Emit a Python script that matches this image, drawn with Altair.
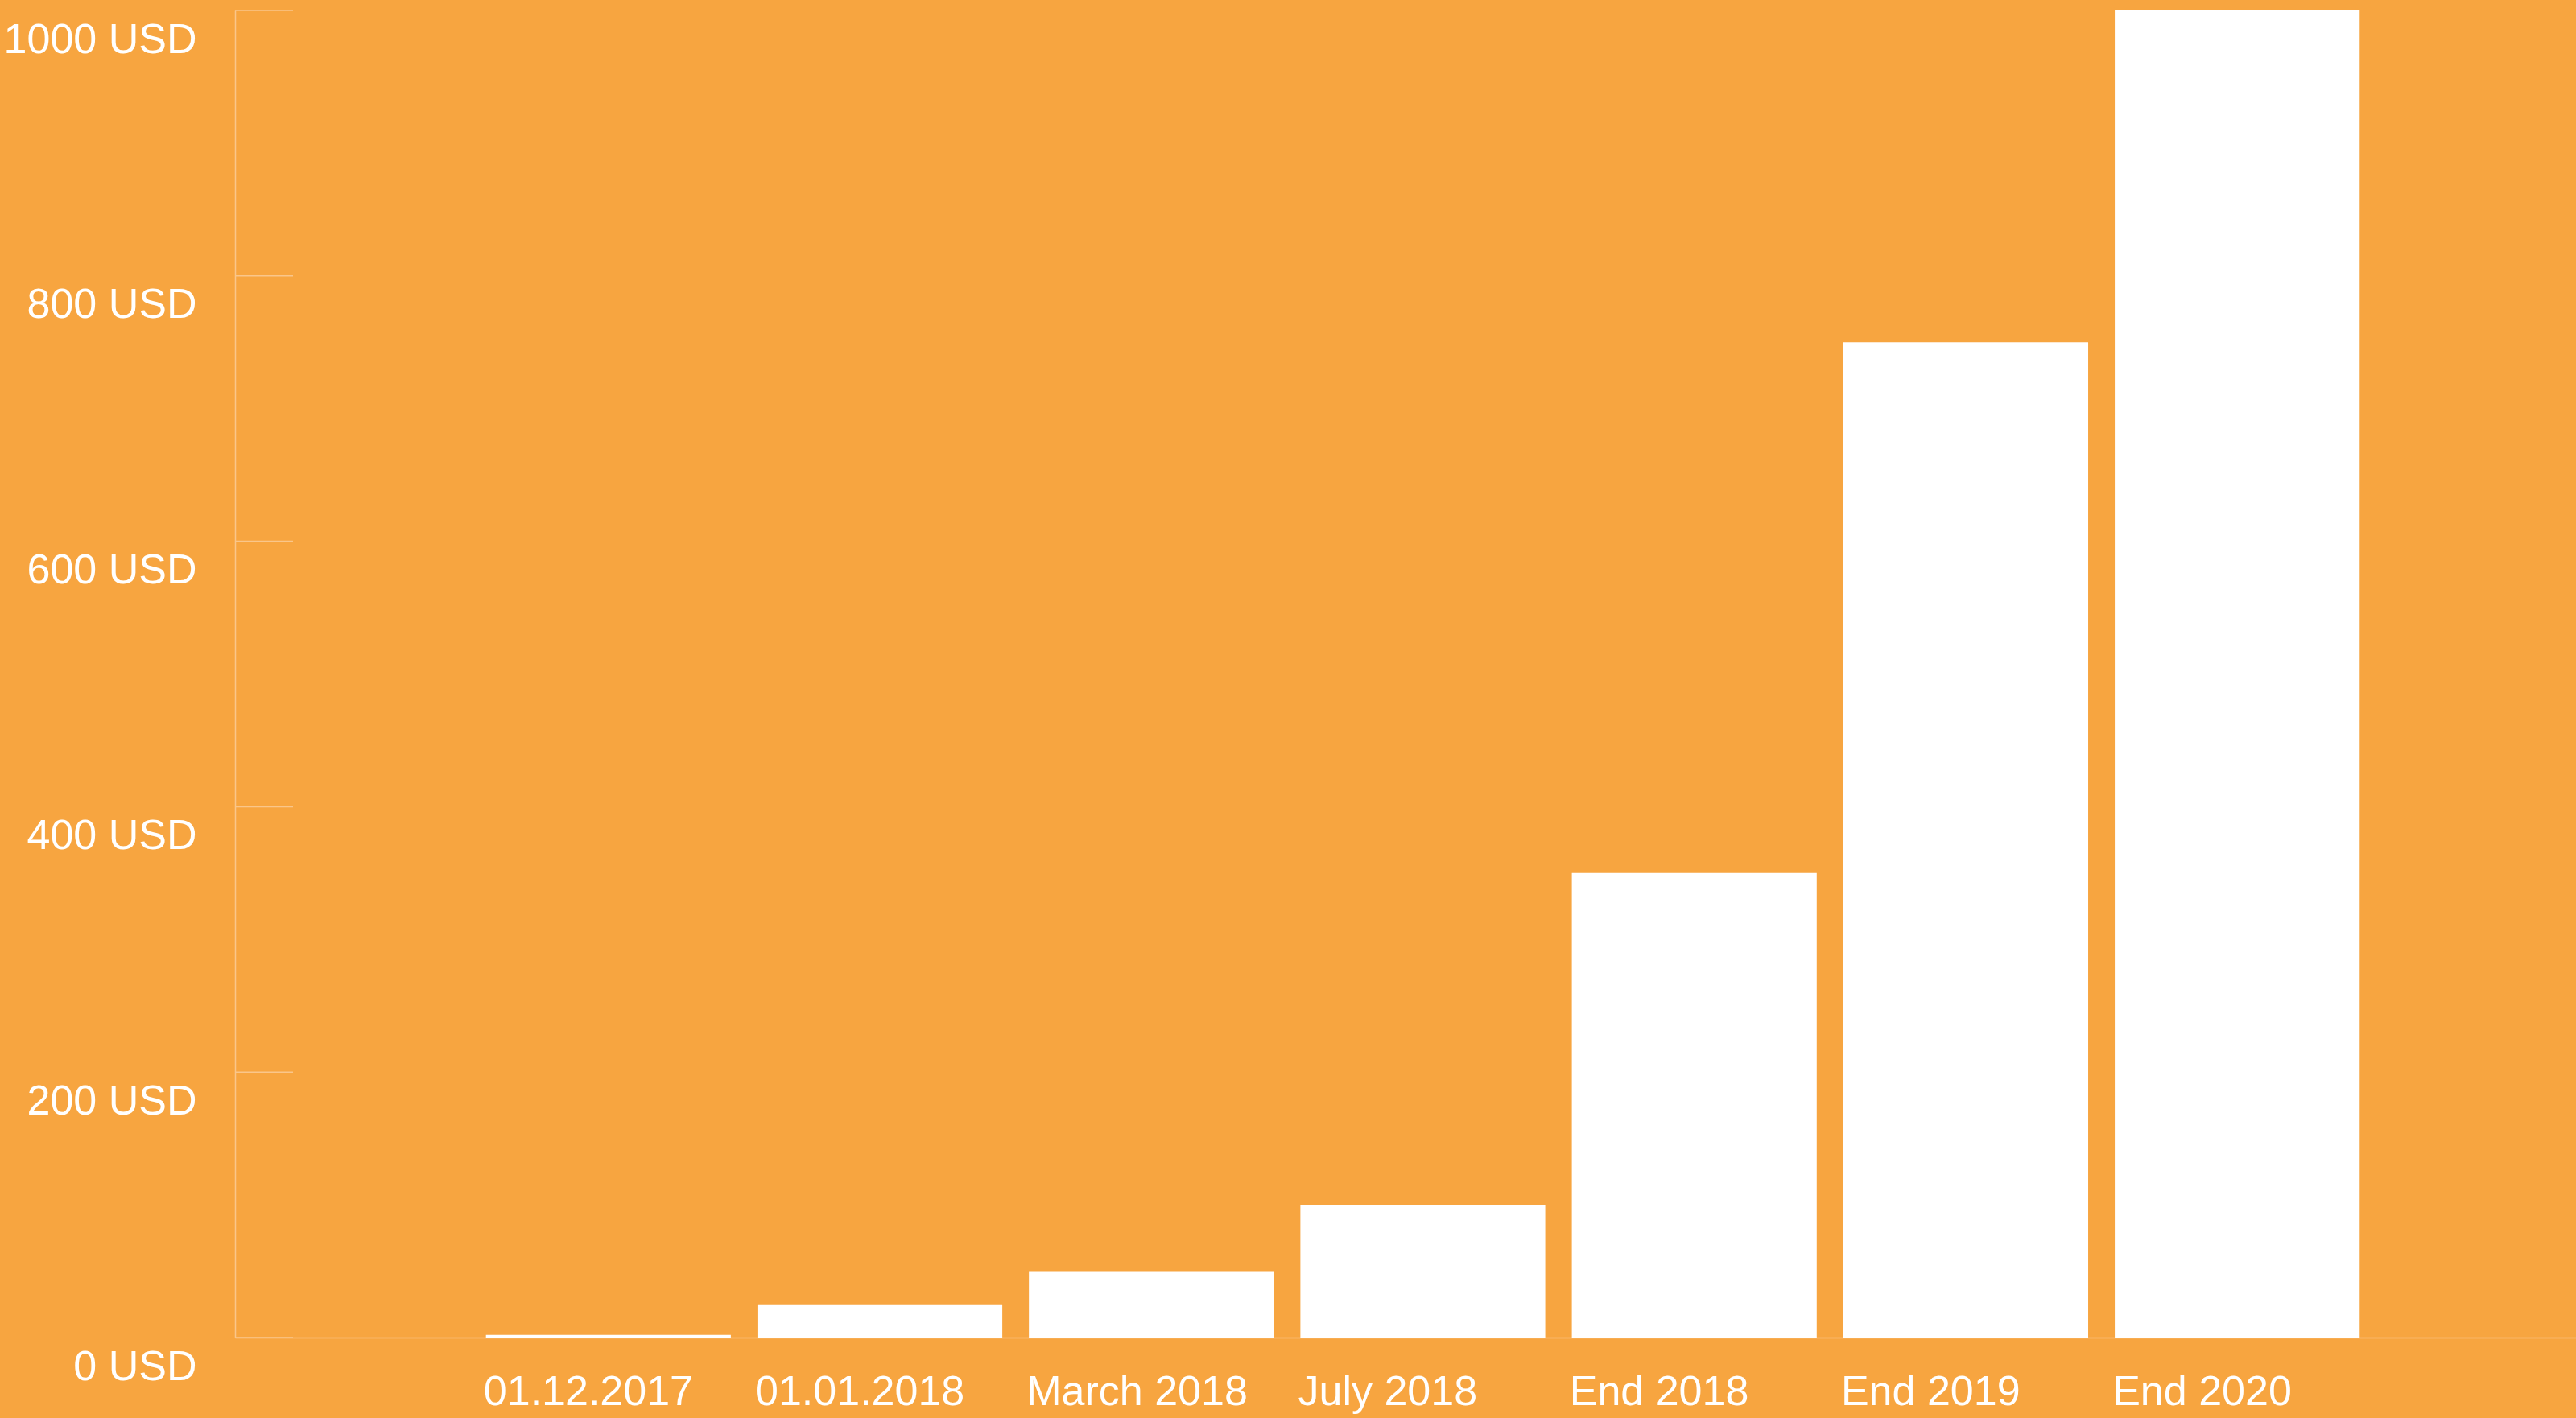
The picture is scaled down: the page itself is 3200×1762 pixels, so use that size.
import altair as alt
import pandas as pd
from altair.utils import html as _alt_html

# ---- data ----
categories = ["01.12.2017", "01.01.2018", "March 2018", "July 2018",
              "End 2018", "End 2019", "End 2020"]
values = [2, 25, 50, 100, 350, 750, 1000]
y_ticks = [0, 200, 400, 600, 800, 1000]
unit_suffix = " USD"

BG = "#F7A540"
LINE = "#FAC68A"
FONT = "Liberation Sans, Arial, sans-serif"
FS = 52

bars_df = pd.DataFrame({"category": categories, "value": values})
ticks_df = pd.DataFrame({"tick": y_ticks})

y_scale = alt.Scale(domain=[0, 1000], nice=False, zero=True)

bars = alt.Chart(bars_df).mark_bar(color="white").encode(
    x=alt.X(
        "category:N",
        sort=None,
        title=None,
        scale=alt.Scale(paddingInner=0.098, paddingOuter=0.8606, align=0.537),
        axis=alt.Axis(
            labelAngle=0,
            labelAlign="left",
            labelBaseline="alphabetic",
            labelPadding=83,
            labelOffset=-155,
            labelLimit=2000,
            labelFont=FONT,
            labelFontSize=FS,
            labelColor="white",
            ticks=False,
            grid=False,
            domainColor=LINE,
            domainWidth=1.5,
        ),
    ),
    y=alt.Y(
        "value:Q",
        title=None,
        scale=y_scale,
        axis=alt.Axis(
            values=y_ticks,
            labelExpr=f"datum.value + '{unit_suffix}'",
            labelBaseline="alphabetic",
            labelOffset=52,
            labelPadding=48,
            labelLimit=2000,
            labelFont=FONT,
            labelFontSize=FS,
            labelColor="white",
            ticks=False,
            grid=False,
            domainColor=LINE,
            domainWidth=1.5,
        ),
    ),
)

tick_rules = alt.Chart(ticks_df).mark_rule(color=LINE, strokeWidth=1.5).encode(
    y=alt.Y("tick:Q", scale=y_scale, title=None),
    x=alt.value(0),
    x2=alt.value(72),
)

chart = alt.layer(bars, tick_rules).properties(
    width=2908,
    height=1649,
    background=BG,
    padding={"left": 292, "top": 13, "right": 0, "bottom": 100},
    autosize=alt.AutoSizeParams(type="none"),
).configure_view(stroke=None)


# page without white margin, orange behind everything (standard template + css)
_std_template = _alt_html.TEMPLATES["standard"]


class _PageTemplate:
    def render(self, **kw):
        html = _std_template.render(**kw)
        css = ("<style>\n    html, body { margin: 0; padding: 0; background: "
               + BG + "; overflow: hidden; }\n")
        return html.replace("<style>", css, 1)


chart.save("out.html", embed_options={"renderer": "svg", "actions": False},
           template=_PageTemplate())
